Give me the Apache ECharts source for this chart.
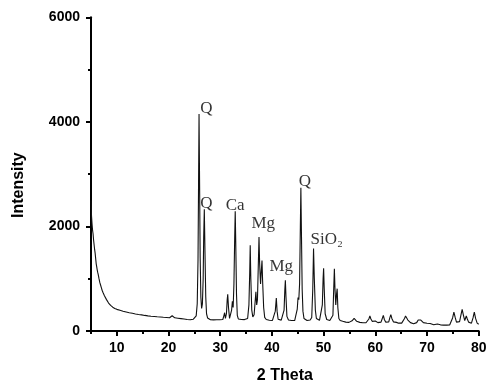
<!DOCTYPE html>
<html>
<head>
<meta charset="utf-8">
<script src="https://cdn.jsdelivr.net/npm/echarts@6/dist/echarts.min.js"></script>
<style>html,body{margin:0;padding:0;background:#fff;}#c{width:496px;height:389px;}</style>
</head>
<body>
<div id="c"></div>
<script>
// XRD pattern: [2 theta, intensity]
const xrdPoints = [
[5.0,2500],[5.05,2380],[5.1,2200],[5.2,2050],[5.3,1930],[5.4,1860],[5.5,1740],[5.6,1650],[5.7,1560],[5.8,1490],[5.9,1390],[6.0,1290],[6.1,1230],[6.2,1170],[6.3,1120],[6.4,1080],[6.55,1000],[6.7,930],[6.85,880],[7.0,830],[7.15,780],[7.3,740],[7.45,705],[7.6,675],[7.8,640],[8.0,600],[8.2,565],[8.4,535],[8.6,510],[8.8,490],[9.0,472],[9.2,455],[9.4,443],[9.6,432],[9.8,420],[10.0,414],[10.3,405],[10.6,396],[10.9,388],[11.2,378],[11.5,370],[11.8,364],[12.1,358],[12.4,350],[12.7,344],[13.0,338],[13.3,332],[13.6,326],[13.9,322],[14.2,316],[14.5,314],[14.8,308],[15.1,302],[15.4,298],[15.7,294],[16.0,290],[16.3,286],[16.6,283],[16.9,280],[17.2,278],[17.5,276],[17.8,272],[18.1,270],[18.4,267],[18.7,264],[19.0,262],[19.3,259],[19.6,258],[19.9,255],[20.2,254],[20.5,262],[20.7,292],[20.9,268],[21.2,252],[21.5,248],[21.8,244],[22.1,240],[22.4,236],[22.7,232],[23.0,228],[23.3,224],[23.6,220],[23.9,218],[24.2,216],[24.5,220],[24.8,226],[25.1,240],[25.35,290],[25.55,520],[25.7,1350],[25.8,2700],[25.9,4150],[26.0,2900],[26.12,1400],[26.25,650],[26.4,430],[26.55,520],[26.7,1000],[26.8,1800],[26.92,2330],[27.05,1500],[27.2,650],[27.35,330],[27.55,250],[27.8,225],
[28.1,215],[28.4,222],[28.7,212],[29.0,218],[29.3,214],[29.6,210],[29.9,214],[30.2,208],[30.5,220],[30.7,290],[30.85,350],[31.0,240],[31.2,330],[31.35,600],[31.45,700],[31.6,450],[31.8,240],[32.0,250],[32.2,400],[32.35,570],[32.5,450],[32.65,900],[32.8,1800],[32.9,2290],[33.0,1700],[33.15,700],[33.3,300],[33.5,230],[33.8,215],[34.1,220],[34.4,212],[34.7,218],[35.0,215],[35.3,240],[35.55,500],[35.7,1100],[35.8,1640],[35.92,1000],[36.1,400],[36.3,270],[36.55,310],[36.75,560],[36.9,750],[37.05,500],[37.2,600],[37.35,1200],[37.5,1800],[37.62,1300],[37.8,900],[37.95,1150],[38.08,1350],[38.2,950],[38.4,450],[38.6,260],[38.9,220],[39.2,212],[39.5,205],[39.8,210],[40.1,202],[40.4,215],[40.65,380],[40.85,630],[41.0,380],[41.2,225],[41.5,210],[41.8,208],[42.1,215],[42.35,400],[42.5,800],[42.6,970],[42.72,650],[42.9,280],[43.2,210],[43.5,205],[43.8,200],[44.1,206],[44.4,200],[44.7,230],[44.9,420],[45.05,640],[45.2,600],[45.35,900],[45.5,2000],[45.6,2740],[45.72,1800],[45.85,800],[46.0,380],[46.2,240],[46.5,205],[46.8,200],[47.1,205],[47.4,210],[47.7,260],[47.9,800],[48.05,1580],[48.2,1000],[48.4,400],[48.6,240],[48.9,210],[49.2,205],[49.5,230],[49.75,500],[49.9,1000],[50.0,1200],[50.12,800],[50.3,330],[50.6,220],[50.9,205],[51.2,200],[51.5,210],[51.8,300],[51.95,800],[52.08,1190],[52.2,800],[52.35,500],[52.5,700],[52.62,810],[52.75,450],[52.95,240],[53.2,200],[53.4,195],[53.55,225],[53.7,185],[54.0,175],[54.3,170],[54.6,168],[54.9,165],
[55.2,172],[55.5,195],[55.75,230],[55.9,240],[56.1,220],[56.4,185],[56.7,170],[57.0,165],[57.3,160],[57.6,158],[57.9,162],[58.2,158],[58.5,170],[58.75,230],[58.95,286],[59.15,230],[59.4,185],[59.7,180],[60.0,190],[60.2,175],[60.5,160],[60.8,155],[61.1,170],[61.35,240],[61.55,300],[61.75,220],[62.0,170],[62.3,165],[62.6,175],[62.8,250],[63.0,313],[63.2,240],[63.5,175],[63.8,160],[64.1,165],[64.25,150],[64.5,150],[64.8,145],[65.1,150],[65.4,175],[65.65,240],[65.85,286],[66.05,250],[66.3,210],[66.5,200],[66.8,160],[67.1,145],[67.4,140],[67.7,150],[68.0,160],[68.3,210],[68.55,248],[68.8,210],[69.1,175],[69.3,160],[69.6,165],[70.0,147],[70.3,140],[70.6,142],[70.9,130],[71.3,118],[71.6,125],[72.0,134],[72.3,120],[72.6,118],[72.9,115],[73.2,112],[73.5,115],[73.8,112],[74.1,114],[74.4,118],[74.7,140],[74.95,250],[75.2,362],[75.45,260],[75.7,170],[76.0,140],[76.3,180],[76.55,300],[76.8,414],[77.05,300],[77.3,200],[77.6,286],[77.8,230],[78.05,170],[78.3,160],[78.6,150],[78.9,250],[79.15,362],[79.4,240],[79.7,150],[80.0,128]
];

// Phase labels
const labelText = ['Q', 'Q', 'Ca', 'Mg', 'Mg', 'Q', 'SiO\u2082'];
const labelTheta = [27.3, 27.3, 32.9, 38.33, 41.81, 46.36, 50.61];
const labelIntensity = [4248, 2432, 2403, 2054, 1228, 2850, 1755];

// Axis ticks
const xMajorTicks = [10, 20, 30, 40, 50, 60, 70, 80];
const xMinorTicks = [5, 15, 25, 35, 45, 55, 65, 75];

const chart = echarts.init(document.getElementById('c'), null, {renderer: 'canvas'});

const labelData = labelText.map((t, i) => ({name: t, value: [labelTheta[i], labelIntensity[i]]}));

const axisFont = {fontFamily: 'Liberation Sans', fontWeight: 'bold', fontSize: 14, color: '#000'};

chart.setOption({
  animation: false,
  backgroundColor: '#fff',
  grid: {left: 91, right: 17.3, top: 17.3, bottom: 57.3, containLabel: false},
  xAxis: [{
    type: 'value', min: 5, max: 80,
    name: '2 Theta', nameLocation: 'middle', nameGap: 37,
    nameTextStyle: {fontFamily: 'Liberation Sans', fontWeight: 'bold', fontSize: 16, color: '#000'},
    axisLine: {show: true, onZero: false, lineStyle: {color: '#000', width: 2}},
    axisTick: {show: true, customValues: xMajorTicks, length: 5, lineStyle: {color: '#000', width: 2}},
    axisLabel: Object.assign({customValues: xMajorTicks, margin: 10, formatter: v => String(v)}, axisFont),
    splitLine: {show: false}
  }, {
    type: 'value', min: 5, max: 80, position: 'bottom',
    axisLine: {show: false},
    axisTick: {show: true, customValues: xMinorTicks, length: 3, lineStyle: {color: '#000', width: 2}},
    axisLabel: {show: false},
    splitLine: {show: false}
  }],
  yAxis: {
    type: 'value', min: 0, max: 6000, interval: 2000,
    name: 'Intensity', nameLocation: 'middle', nameGap: 64,
    nameTextStyle: {fontFamily: 'Liberation Sans', fontWeight: 'bold', fontSize: 16, color: '#000', padding: [0, 22, 0, 0]},
    axisLine: {show: true, lineStyle: {color: '#000', width: 2}},
    axisTick: {show: true, length: 5, lineStyle: {color: '#000', width: 2}},
    minorTick: {show: true, splitNumber: 2, length: 3, lineStyle: {color: '#000', width: 2}},
    axisLabel: Object.assign({margin: 11, formatter: v => String(v)}, axisFont),
    splitLine: {show: false},
    minorSplitLine: {show: false}
  },
  series: [{
    type: 'line',
    data: xrdPoints,
    xAxisIndex: 0,
    showSymbol: false,
    symbol: 'none',
    lineStyle: {color: '#111', width: 1.1},
    silent: true
  }, {
    type: 'scatter',
    xAxisIndex: 0,
    data: labelData,
    symbol: 'circle',
    symbolSize: 0.1,
    itemStyle: {color: 'rgba(0,0,0,0)'},
    silent: true,
    label: {
      show: true, position: 'inside', formatter: '{b}',
      fontFamily: 'Liberation Serif', fontSize: 17, color: '#000'
    }
  }]
});
</script>
</body>
</html>
